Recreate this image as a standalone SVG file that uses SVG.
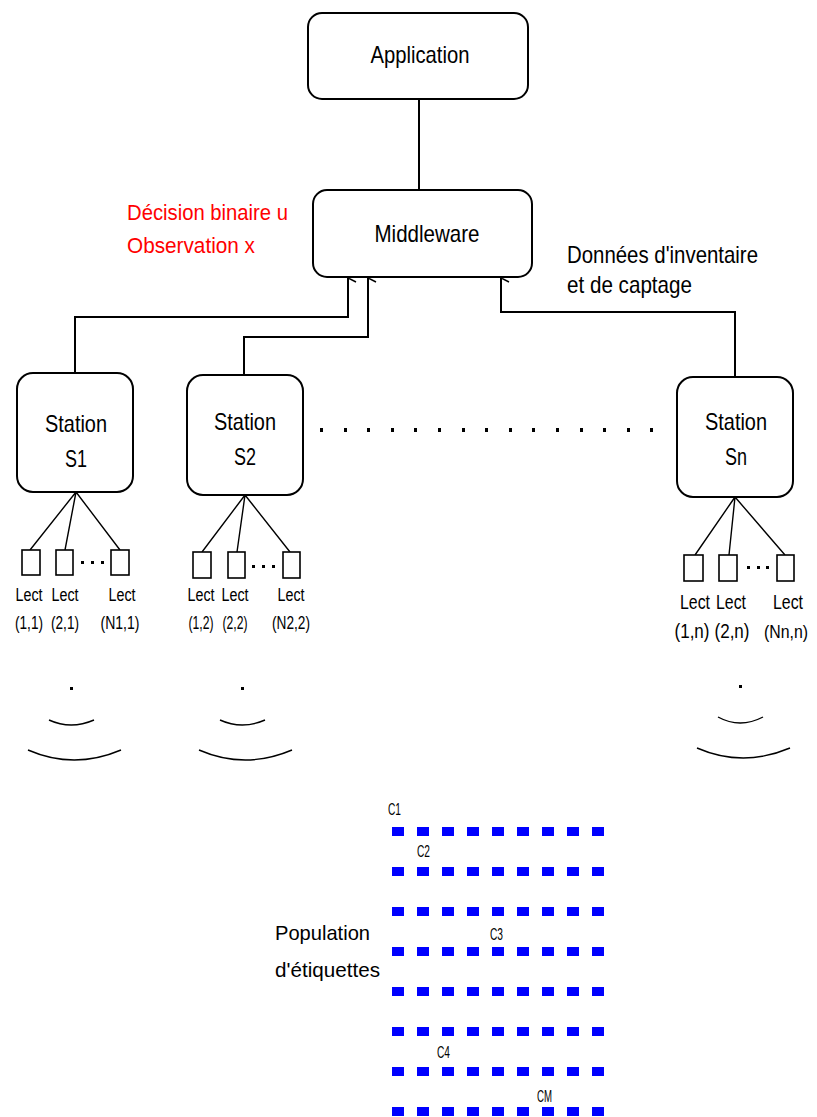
<svg xmlns="http://www.w3.org/2000/svg" width="817" height="1117" viewBox="0 0 817 1117">
<style>
.box{fill:#fff;stroke:#000;stroke-width:2}
.lect{fill:#fff;stroke:#000;stroke-width:1.6}
.ln{fill:none;stroke:#000;stroke-width:2}
.thin{fill:none;stroke:#000;stroke-width:1.4}
.t{font-family:"Liberation Sans",Arial,sans-serif;fill:#000}
.big{font-size:24px}
.red{font-size:22px;fill:#ff0000}
.sm{font-size:18px}
.smn{font-size:21px}
.c{font-size:16px}
.tag{fill:#0000ff}
</style>
<defs>
<marker id="arr" viewBox="-6 -1 12 12" refX="0" refY="0" markerWidth="12" markerHeight="12" markerUnits="userSpaceOnUse" orient="auto-start-reverse">
<path d="M-4,8 L0,0 L4,8" fill="none" stroke="#000" stroke-width="1.5"/>
</marker>
</defs>

<g id="connectors">
<path class="ln" d="M419,99 V190"/>
<path class="ln" d="M75,373 V317 H348 V278" marker-end="url(#arr)"/>
<path class="ln" d="M244,375 V337 H368 V278" marker-end="url(#arr)"/>
<path class="ln" d="M735,377 V312 H501 V278" marker-end="url(#arr)"/>
<path class="thin" d="M76,492 L30,550 M76,492 L65,550 M76,492 L120,550"/>
<path class="thin" d="M245,495 L202,552 M245,495 L237,552 M245,495 L290,552"/>
<path class="thin" d="M735,497 L695,555 M735,497 L729,555 M735,497 L785,555"/>
</g>

<g id="application">
<rect class="box" x="308" y="13" width="220" height="86" rx="14"/>
<text class="t big" x="420" y="63" text-anchor="middle" textLength="99" lengthAdjust="spacingAndGlyphs">Application</text>
</g>

<g id="middleware">
<rect class="box" x="313" y="190" width="219" height="87" rx="14"/>
<text class="t big" x="427" y="242" text-anchor="middle" textLength="105" lengthAdjust="spacingAndGlyphs">Middleware</text>
</g>

<g id="label-decision">
<text class="t red" x="127" y="220" textLength="161" lengthAdjust="spacingAndGlyphs">Décision binaire u</text>
<text class="t red" x="127" y="253" textLength="128" lengthAdjust="spacingAndGlyphs">Observation x</text>
</g>

<g id="label-donnees">
<text class="t big" x="567" y="263" textLength="191" lengthAdjust="spacingAndGlyphs">Données d'inventaire</text>
<text class="t big" x="567" y="293" textLength="125" lengthAdjust="spacingAndGlyphs">et de captage</text>
</g>

<g id="station-s1">
<rect class="box" x="17" y="373" width="116" height="119" rx="16"/>
<text class="t big" x="76" y="432" text-anchor="middle" textLength="62" lengthAdjust="spacingAndGlyphs">Station</text>
<text class="t big" x="76" y="467" text-anchor="middle" textLength="22" lengthAdjust="spacingAndGlyphs">S1</text>
</g>
<g id="station-s2">
<rect class="box" x="187" y="375" width="116" height="120" rx="16"/>
<text class="t big" x="245" y="430" text-anchor="middle" textLength="62" lengthAdjust="spacingAndGlyphs">Station</text>
<text class="t big" x="245" y="465" text-anchor="middle" textLength="22" lengthAdjust="spacingAndGlyphs">S2</text>
</g>
<g id="station-sn">
<rect class="box" x="677" y="377" width="116" height="120" rx="16"/>
<text class="t big" x="736" y="430" text-anchor="middle" textLength="62" lengthAdjust="spacingAndGlyphs">Station</text>
<text class="t big" x="736" y="465" text-anchor="middle" textLength="22" lengthAdjust="spacingAndGlyphs">Sn</text>
</g>

<g id="stations-ellipsis">
<rect x="320" y="428" width="3" height="4"/><rect x="344" y="428" width="3" height="4"/><rect x="367" y="428" width="3" height="4"/><rect x="391" y="428" width="3" height="4"/><rect x="414" y="428" width="3" height="4"/><rect x="438" y="428" width="3" height="4"/><rect x="462" y="428" width="3" height="4"/><rect x="485" y="428" width="3" height="4"/><rect x="509" y="428" width="3" height="4"/><rect x="532" y="428" width="3" height="4"/><rect x="556" y="428" width="3" height="4"/><rect x="580" y="428" width="3" height="4"/><rect x="603" y="428" width="3" height="4"/><rect x="627" y="428" width="3" height="4"/><rect x="650" y="428" width="3" height="4"/>
</g>

<g id="lecteurs-s1">
<rect class="lect" x="22" y="550" width="18" height="25"/>
<rect class="lect" x="56" y="550" width="17" height="25"/>
<rect class="lect" x="111" y="550" width="18" height="25"/>
<rect x="81" y="561" width="3" height="3"/><rect x="91" y="561" width="3" height="3"/><rect x="101" y="561" width="3" height="3"/>
<text class="t sm" x="29" y="601" text-anchor="middle" textLength="27" lengthAdjust="spacingAndGlyphs">Lect</text>
<text class="t sm" x="65" y="601" text-anchor="middle" textLength="27" lengthAdjust="spacingAndGlyphs">Lect</text>
<text class="t sm" x="122" y="601" text-anchor="middle" textLength="27" lengthAdjust="spacingAndGlyphs">Lect</text>
<text class="t sm" x="29" y="629" text-anchor="middle" textLength="28" lengthAdjust="spacingAndGlyphs">(1,1)</text>
<text class="t sm" x="65" y="629" text-anchor="middle" textLength="28" lengthAdjust="spacingAndGlyphs">(2,1)</text>
<text class="t sm" x="120" y="629" text-anchor="middle" textLength="39" lengthAdjust="spacingAndGlyphs">(N1,1)</text>
</g>

<g id="lecteurs-s2">
<rect class="lect" x="193" y="552" width="18" height="26"/>
<rect class="lect" x="228" y="552" width="17" height="26"/>
<rect class="lect" x="283" y="552" width="17" height="26"/>
<rect x="252" y="565" width="3" height="3"/><rect x="262" y="565" width="3" height="3"/><rect x="272" y="565" width="3" height="3"/>
<text class="t sm" x="201" y="601" text-anchor="middle" textLength="27" lengthAdjust="spacingAndGlyphs">Lect</text>
<text class="t sm" x="235" y="601" text-anchor="middle" textLength="27" lengthAdjust="spacingAndGlyphs">Lect</text>
<text class="t sm" x="291" y="601" text-anchor="middle" textLength="27" lengthAdjust="spacingAndGlyphs">Lect</text>
<text class="t sm" x="201" y="629" text-anchor="middle" textLength="25" lengthAdjust="spacingAndGlyphs">(1,2)</text>
<text class="t sm" x="235" y="629" text-anchor="middle" textLength="25" lengthAdjust="spacingAndGlyphs">(2,2)</text>
<text class="t sm" x="291" y="629" text-anchor="middle" textLength="38" lengthAdjust="spacingAndGlyphs">(N2,2)</text>
</g>

<g id="lecteurs-sn">
<rect class="lect" x="684" y="555" width="19" height="26"/>
<rect class="lect" x="719" y="555" width="18" height="26"/>
<rect class="lect" x="777" y="555" width="17" height="26"/>
<rect x="747" y="566" width="3" height="3"/><rect x="757" y="566" width="3" height="3"/><rect x="766" y="566" width="3" height="3"/>
<text class="t smn" x="695" y="609" text-anchor="middle" textLength="30" lengthAdjust="spacingAndGlyphs">Lect</text>
<text class="t smn" x="731" y="609" text-anchor="middle" textLength="30" lengthAdjust="spacingAndGlyphs">Lect</text>
<text class="t smn" x="788" y="609" text-anchor="middle" textLength="30" lengthAdjust="spacingAndGlyphs">Lect</text>
<text class="t smn" x="692" y="638" text-anchor="middle" textLength="35" lengthAdjust="spacingAndGlyphs">(1,n)</text>
<text class="t smn" x="732" y="638" text-anchor="middle" textLength="35" lengthAdjust="spacingAndGlyphs">(2,n)</text>
<text class="t" style="font-size:18px" x="808" y="638" text-anchor="end" textLength="44" lengthAdjust="spacingAndGlyphs">(Nn,n)</text>
</g>

<g id="ondes">
<rect x="70" y="687" width="3" height="3"/>
<path class="thin" d="M49,720 Q71,730 94,720"/>
<path class="thin" d="M28,750 Q74,770 121,750"/>
<rect x="241" y="687" width="3" height="3"/>
<path class="thin" d="M220,720 Q242,730 265,720"/>
<path class="thin" d="M199,750 Q245,770 292,750"/>
<rect x="739" y="685" width="3" height="3"/>
<path class="thin" d="M718,717 Q740,729 763,717"/>
<path class="thin" d="M697,748 Q743,768 790,748"/>
</g>

<g id="population">
<text class="t smn" x="275" y="940" textLength="95" lengthAdjust="spacingAndGlyphs">Population</text>
<text class="t smn" x="275" y="977" textLength="105" lengthAdjust="spacingAndGlyphs">d'étiquettes</text>
<text class="t c" x="388" y="815" textLength="13" lengthAdjust="spacingAndGlyphs">C1</text>
<text class="t c" x="417" y="857" textLength="13" lengthAdjust="spacingAndGlyphs">C2</text>
<text class="t c" x="490" y="940" textLength="13" lengthAdjust="spacingAndGlyphs">C3</text>
<text class="t c" x="437" y="1058" textLength="13" lengthAdjust="spacingAndGlyphs">C4</text>
<text class="t c" x="537" y="1102" textLength="15" lengthAdjust="spacingAndGlyphs">CM</text>
<g class="tag">
<rect x="392" y="827" width="12" height="9"/><rect x="417" y="827" width="12" height="9"/><rect x="442" y="827" width="12" height="9"/><rect x="467" y="827" width="12" height="9"/><rect x="492" y="827" width="12" height="9"/><rect x="517" y="827" width="12" height="9"/><rect x="542" y="827" width="12" height="9"/><rect x="567" y="827" width="12" height="9"/><rect x="592" y="827" width="12" height="9"/>
<rect x="392" y="867" width="12" height="9"/><rect x="417" y="867" width="12" height="9"/><rect x="442" y="867" width="12" height="9"/><rect x="467" y="867" width="12" height="9"/><rect x="492" y="867" width="12" height="9"/><rect x="517" y="867" width="12" height="9"/><rect x="542" y="867" width="12" height="9"/><rect x="567" y="867" width="12" height="9"/><rect x="592" y="867" width="12" height="9"/>
<rect x="392" y="907" width="12" height="9"/><rect x="417" y="907" width="12" height="9"/><rect x="442" y="907" width="12" height="9"/><rect x="467" y="907" width="12" height="9"/><rect x="492" y="907" width="12" height="9"/><rect x="517" y="907" width="12" height="9"/><rect x="542" y="907" width="12" height="9"/><rect x="567" y="907" width="12" height="9"/><rect x="592" y="907" width="12" height="9"/>
<rect x="392" y="947" width="12" height="9"/><rect x="417" y="947" width="12" height="9"/><rect x="442" y="947" width="12" height="9"/><rect x="467" y="947" width="12" height="9"/><rect x="492" y="947" width="12" height="9"/><rect x="517" y="947" width="12" height="9"/><rect x="542" y="947" width="12" height="9"/><rect x="567" y="947" width="12" height="9"/><rect x="592" y="947" width="12" height="9"/>
<rect x="392" y="987" width="12" height="9"/><rect x="417" y="987" width="12" height="9"/><rect x="442" y="987" width="12" height="9"/><rect x="467" y="987" width="12" height="9"/><rect x="492" y="987" width="12" height="9"/><rect x="517" y="987" width="12" height="9"/><rect x="542" y="987" width="12" height="9"/><rect x="567" y="987" width="12" height="9"/><rect x="592" y="987" width="12" height="9"/>
<rect x="392" y="1027" width="12" height="9"/><rect x="417" y="1027" width="12" height="9"/><rect x="442" y="1027" width="12" height="9"/><rect x="467" y="1027" width="12" height="9"/><rect x="492" y="1027" width="12" height="9"/><rect x="517" y="1027" width="12" height="9"/><rect x="542" y="1027" width="12" height="9"/><rect x="567" y="1027" width="12" height="9"/><rect x="592" y="1027" width="12" height="9"/>
<rect x="392" y="1067" width="12" height="9"/><rect x="417" y="1067" width="12" height="9"/><rect x="442" y="1067" width="12" height="9"/><rect x="467" y="1067" width="12" height="9"/><rect x="492" y="1067" width="12" height="9"/><rect x="517" y="1067" width="12" height="9"/><rect x="542" y="1067" width="12" height="9"/><rect x="567" y="1067" width="12" height="9"/><rect x="592" y="1067" width="12" height="9"/>
<rect x="392" y="1107" width="12" height="9"/><rect x="417" y="1107" width="12" height="9"/><rect x="442" y="1107" width="12" height="9"/><rect x="467" y="1107" width="12" height="9"/><rect x="492" y="1107" width="12" height="9"/><rect x="517" y="1107" width="12" height="9"/><rect x="542" y="1107" width="12" height="9"/><rect x="567" y="1107" width="12" height="9"/><rect x="592" y="1107" width="12" height="9"/>
</g>
</g>
</svg>
